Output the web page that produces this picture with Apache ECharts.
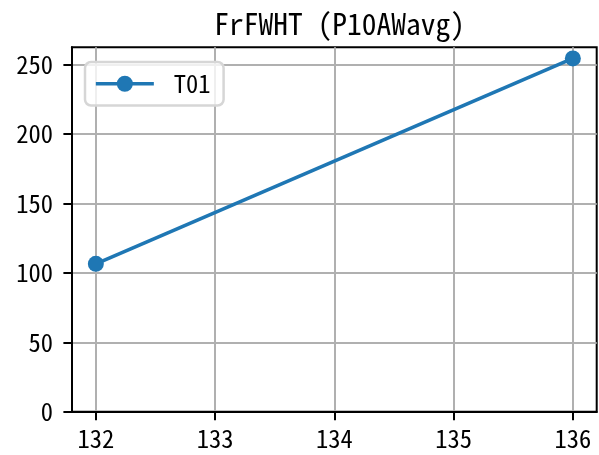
<!DOCTYPE html>
<html>
<head>
<meta charset="utf-8">
<script src="https://cdn.jsdelivr.net/npm/echarts@6/dist/echarts.min.js"></script>
<style>
html,body{margin:0;padding:0;background:#fff;}
#chart{width:599px;height:455px;}
</style>
</head>
<body>
<div id="chart"></div>
<script>
const titleText = 'FrFWHT (P10AWavg)';
const seriesName = 'T01';
const xValues = [132, 136];
const yValues = [106.5, 254.5];
const xTicks = [132, 133, 134, 135, 136];
const yTicks = [0, 50, 100, 150, 200, 250];

const FONT = "'Noto Sans Mono CJK JP', 'Noto Sans CJK JP', 'DejaVu Sans Mono', monospace";
const chart = echarts.init(document.getElementById('chart'));
chart.setOption({
  animation: false,
  backgroundColor: '#ffffff',
  title: {
    text: titleText,
    left: 334.5,
    textAlign: 'center',
    top: 4,
    textStyle: { fontFamily: FONT, fontSize: 29.5, fontWeight: 'normal', color: '#000' }
  },
  legend: {
    data: [seriesName],
    left: 85,
    top: 62,
    orient: 'vertical',
    itemWidth: 58,
    itemHeight: 20,
    padding: [9.5, 13, 9.5, 9],
    backgroundColor: 'rgba(255,255,255,0.8)',
    borderColor: '#d6d6d6',
    borderWidth: 2.5,
    borderRadius: 6,
    lineStyle: { width: 3.7, color: '#1f77b4' },
    textStyle: { fontFamily: FONT, fontSize: 24.5, color: '#000', lineHeight: 24, padding: [0, 0, 0, 15] }
  },
  grid: {
    left: 72, right: 2.3, top: 47.3, bottom: 43.3,
    show: true, borderColor: '#000', borderWidth: 2, backgroundColor: 'transparent'
  },
  xAxis: {
    type: 'value',
    min: 131.8, max: 136.2,
    axisLine: { show: true, lineStyle: { color: '#000', width: 2 } },
    axisTick: { show: true, inside: false, length: 8.6, lineStyle: { color: '#000', width: 2 }, customValues: xTicks },
    axisLabel: { customValues: xTicks, margin: 15, fontFamily: FONT, fontSize: 24.5, color: '#000', formatter: v => String(v) },
    splitLine: { show: true, lineStyle: { color: '#b0b0b0', width: 2 } }
  },
  yAxis: {
    type: 'value',
    min: 0, max: 262.5,
    axisLine: { show: true, lineStyle: { color: '#000', width: 2 } },
    axisTick: { show: true, inside: false, length: 8.6, lineStyle: { color: '#000', width: 2 }, customValues: yTicks },
    axisLabel: { customValues: yTicks, margin: 19, fontFamily: FONT, fontSize: 24.5, color: '#000', formatter: v => String(v) },
    splitLine: { show: true, lineStyle: { color: '#b0b0b0', width: 2 } }
  },
  series: [{
    name: seriesName,
    type: 'line',
    data: xValues.map((x, i) => [x, yValues[i]]),
    symbol: 'circle',
    symbolSize: 16,
    itemStyle: { color: '#1f77b4' },
    lineStyle: { color: '#1f77b4', width: 3.7 },
    emphasis: { disabled: true }
  }]
});
</script>
</body>
</html>
